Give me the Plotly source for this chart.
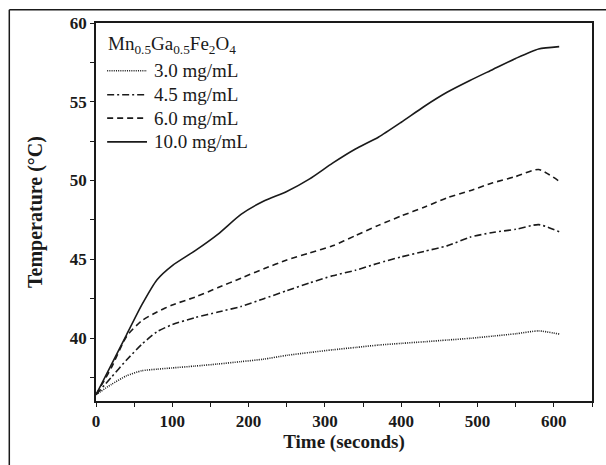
import plotly.graph_objects as go

time_s = [0, 20, 40, 60, 80, 100, 130, 160, 190, 220, 250, 280, 310, 340, 370,
          400, 430, 460, 490, 520, 550, 580, 607]

temp_3_0 = [36.4, 37.05, 37.6, 37.92, 38.02, 38.1, 38.22, 38.35, 38.5, 38.66, 38.9,
            39.08, 39.25, 39.4, 39.55, 39.66, 39.76, 39.87, 39.98, 40.12, 40.27, 40.45, 40.25]
temp_4_5 = [36.4, 37.5, 38.6, 39.6, 40.4, 40.85, 41.3, 41.65, 42.0, 42.5, 43.0,
            43.5, 43.95, 44.3, 44.75, 45.15, 45.5, 45.85, 46.4, 46.7, 46.9, 47.2, 46.75]
temp_6_0 = [36.4, 38.1, 40.1, 41.1, 41.65, 42.1, 42.6, 43.2, 43.8, 44.4, 44.95,
            45.4, 45.85, 46.5, 47.15, 47.75, 48.3, 48.9, 49.35, 49.85, 50.25, 50.7, 49.95]
temp_10_0 = [36.4, 38.3, 40.2, 42.1, 43.7, 44.6, 45.55, 46.6, 47.85, 48.7, 49.3,
             50.1, 51.1, 52.0, 52.75, 53.7, 54.7, 55.6, 56.35, 57.05, 57.75, 58.35, 58.5]

series_names = ["3.0 mg/mL", "4.5 mg/mL", "6.0 mg/mL", "10.0 mg/mL"]
series_values = [temp_3_0, temp_4_5, temp_6_0, temp_10_0]
series_dash = ["1px,1.2px", "7px,3px,2px,3px", "6px,4px", "solid"]
legend_title = "Mn<sub>0.5</sub>Ga<sub>0.5</sub>Fe<sub>2</sub>O<sub>4</sub>"

x_ticks = [0, 100, 200, 300, 400, 500, 600]
y_ticks = [40, 45, 50, 55, 60]

FONT = "Liberation Serif"
INK = "#1a1a1a"

fig = go.Figure()
for name, vals, dash in zip(series_names, series_values, series_dash):
    fig.add_trace(go.Scatter(
        x=time_s, y=vals, name=name, mode="lines", showlegend=False,
        line=dict(color=INK, width=1.6, dash=dash, shape="spline", smoothing=0.6),
    ))

# hand-built legend (title + 4 rows) inside the top-left of the plot area
leg_title_y = 0.9425
leg_rows_y = [0.8736, 0.8100, 0.7483, 0.6855]
leg_line_x = (0.0225, 0.1028)
leg_text_x = 0.1128

annotations = [dict(text=legend_title, xref="paper", yref="paper", x=0.0205, y=leg_title_y,
                    xanchor="left", yanchor="middle", showarrow=False,
                    font=dict(family=FONT, size=19, color=INK))]
shapes = []
for name, dash, ry in zip(series_names, series_dash, leg_rows_y):
    annotations.append(dict(text=name, xref="paper", yref="paper", x=leg_text_x, y=ry,
                            xanchor="left", yanchor="middle", showarrow=False,
                            font=dict(family=FONT, size=19, color=INK)))
    shapes.append(dict(type="line", xref="paper", yref="paper",
                       x0=leg_line_x[0], x1=leg_line_x[1], y0=ry, y1=ry,
                       line=dict(color=INK, width=1.6, dash=dash)))

# outer frame of the figure (left and top edges visible)
shapes += [
    dict(type="line", xref="paper", yref="paper", x0=-0.1748, x1=1.1, y0=1.0352, y1=1.0352,
         line=dict(color=INK, width=1.5)),
    dict(type="line", xref="paper", yref="paper", x0=-0.1748, x1=-0.1748, y0=-0.3, y1=1.0352,
         line=dict(color=INK, width=1.5)),
]

axis_common = dict(
    showline=True, linecolor=INK, linewidth=1.5, mirror=True,
    ticks="outside", tickcolor=INK, ticklen=4, tickwidth=1.3,
    showgrid=False, zeroline=False,
    tickfont=dict(family=FONT, size=17, color=INK, weight="bold"),
)

fig.update_layout(
    width=606, height=465,
    margin=dict(l=96, r=12, t=23, b=64),
    paper_bgcolor="white", plot_bgcolor="white",
    font=dict(family=FONT, color=INK),
    showlegend=False,
    xaxis=dict(
        range=[0, 650], tickvals=x_ticks,
        minor=dict(dtick=50, tick0=0, ticks="outside", ticklen=4, tickcolor=INK, tickwidth=1.2),
        title=dict(text="Time (seconds)", standoff=1,
                   font=dict(family=FONT, size=19, color=INK, weight="bold")),
        **axis_common,
    ),
    yaxis=dict(
        range=[36, 60], tickvals=y_ticks,
        minor=dict(dtick=2.5, tick0=0, ticks="outside", ticklen=4, tickcolor=INK, tickwidth=1.2),
        title=dict(text="Temperature (°C)", standoff=22,
                   font=dict(family=FONT, size=20, color=INK, weight="bold")),
        **axis_common,
    ),
    annotations=annotations,
    shapes=shapes,
)

fig.write_html("out.html")
